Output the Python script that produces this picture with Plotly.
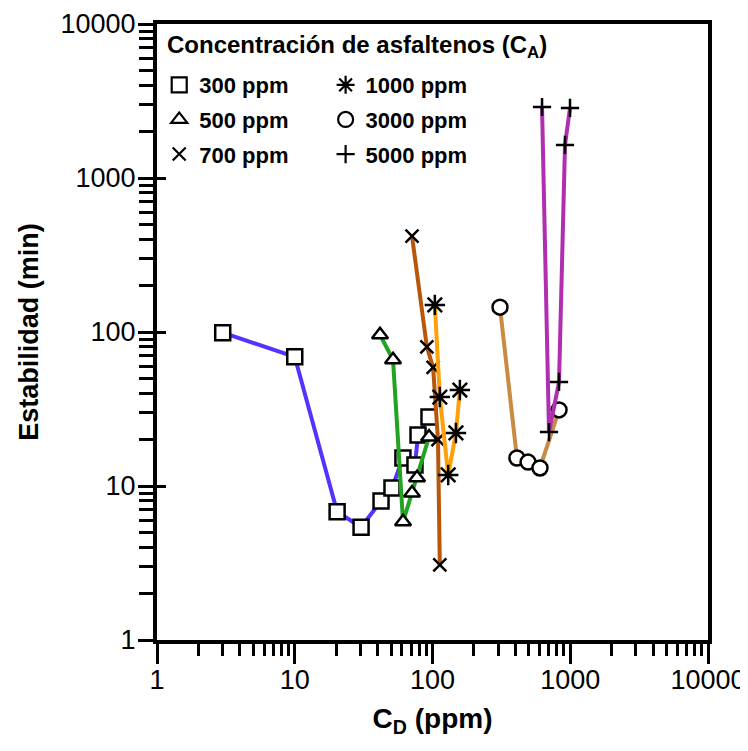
import plotly.graph_objects as go

# ---- data (C_D in ppm, Estabilidad in min) ----
x300 = [3, 10, 20.3, 30.3, 42.3, 50.8, 61, 74.6, 78.5, 94.3]
y300 = [99, 69, 6.8, 5.4, 8.0, 9.7, 15.2, 13.7, 21.4, 28.1]

x500 = [41.6, 51.7, 61.1, 71, 77.2, 94.4]
y500 = [96, 66, 5.85, 9.0, 11.3, 20.8]

x700 = [71, 91, 101, 109.6, 113]
y700 = [420, 80, 59, 20, 3.07]

x1000 = [104, 113, 130, 148, 158]
y1000 = [150, 37.8, 11.8, 22.1, 42]

x3000 = [309, 410, 494, 603, 829]
y3000 = [145, 15.2, 14.3, 13.1, 31.2]

x5000 = [624, 701, 829, 916, 996]
y5000 = [2890, 22.4, 47.4, 1640, 2850]

labels = ["300 ppm", "500 ppm", "700 ppm", "1000 ppm", "3000 ppm", "5000 ppm"]
legend_title = "Concentración de asfaltenos (C<sub>A</sub>)"
xs = [x300, x500, x700, x1000, x3000, x5000]
ys = [y300, y500, y700, y1000, y3000, y5000]

colors = ["#5533ff", "#22a322", "#b8560a", "#ff9f0a", "#c98a42", "#b02eb0"]
symbols = ["square", "triangle-up", "x-thin", "asterisk", "circle", "cross-thin"]
msizes = [15, 14, 13, 17, 15, 13]
legends = ["legend", "legend", "legend", "legend2", "legend2", "legend2"]

tick_vals = [1, 10, 100, 1000, 10000]
tick_text = ["1", "10", "100", "1000", "10000"]
minor_vals = [m * 10 ** d for d in range(4) for m in range(2, 10)]

FONT = "Liberation Sans, Arial, sans-serif"

fig = go.Figure()

for i, (xv, yv, col, sym, ms, lab, lg) in enumerate(zip(xs, ys, colors, symbols, msizes, labels, legends)):
    fig.add_trace(go.Scatter(
        x=xv, y=yv, mode="lines+markers", showlegend=False,
        line=dict(color=col, width=4),
        marker=dict(symbol=sym, size=ms, color="white",
                    line=dict(color="black", width=2.5)),
    ))
    fig.add_trace(go.Scatter(
        x=[None], y=[None], mode="markers", name=lab, legend=lg,
        legendgroup="g%d" % i,
        marker=dict(symbol=sym, size=min(ms, 15), color="white",
                    line=dict(color="black", width=2.2)),
    ))

# helper trace so the overlay axis (inner major ticks) is drawn
fig.add_trace(go.Scatter(x=[None], y=[None], yaxis="y2", showlegend=False, hoverinfo="skip"))

axis_common = dict(
    type="log", range=[0, 4], showgrid=False, zeroline=False, automargin=False,
    showline=True, linecolor="black", linewidth=4, mirror=True,
    tickmode="array", tickvals=tick_vals, ticktext=tick_text,
    ticks="outside", tickwidth=2.5, tickcolor="black",
    tickfont=dict(family=FONT, size=27, color="black"),
)

fig.update_layout(
    width=748, height=751,
    margin=dict(l=149, r=48, t=16, b=119),
    paper_bgcolor="white", plot_bgcolor="white",
    xaxis=dict(**axis_common, ticklen=20, ticklabelstandoff=-7,
               minor=dict(tickmode="array", tickvals=minor_vals, ticks="outside",
                          ticklen=12, tickwidth=2.5, tickcolor="black", showgrid=False),
               title=dict(text="C<sub>D</sub> (ppm)",
                          font=dict(family=FONT, size=28, color="black", weight="bold"))),
    yaxis=dict(**axis_common, ticklen=15, ticklabelstandoff=-3,
               minor=dict(tickmode="array", tickvals=minor_vals, ticks="outside",
                          ticklen=14, tickwidth=2.5, tickcolor="black", showgrid=False),
               title=dict(text="Estabilidad (min)",
                          font=dict(family=FONT, size=27, color="black", weight="bold"))),
    yaxis2=dict(type="log", range=[0, 4], overlaying="y", side="left",
                showgrid=False, zeroline=False, showline=False, automargin=False,
                tickmode="array", tickvals=[10, 100, 1000], ticks="inside",
                ticklen=9, tickwidth=2.5, tickcolor="black", showticklabels=False),
    legend=dict(x=0.004, y=0.935, xanchor="left", yanchor="top",
                bgcolor="rgba(0,0,0,0)", borderwidth=0, tracegroupgap=3,
                font=dict(family=FONT, size=22, color="black", weight="bold"),
                itemsizing="trace"),
    legend2=dict(x=0.306, y=0.935, xanchor="left", yanchor="top",
                 bgcolor="rgba(0,0,0,0)", borderwidth=0, tracegroupgap=3,
                 font=dict(family=FONT, size=22, color="black", weight="bold"),
                 itemsizing="trace"),
    annotations=[dict(text=legend_title, xref="paper", yref="paper",
                      x=0.0145, y=0.9627, xanchor="left", yanchor="middle",
                      showarrow=False,
                      font=dict(family=FONT, size=24, color="black", weight="bold"))],
)

fig.write_html("out.html")
